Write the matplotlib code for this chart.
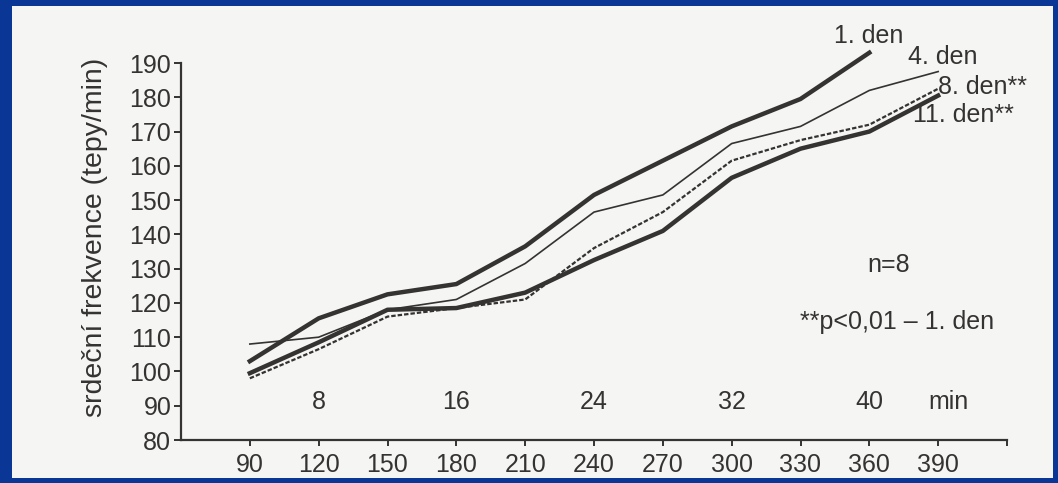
import matplotlib
matplotlib.use('Agg')
import matplotlib.pyplot as plt
import matplotlib.patches as patches

plt.rcParams['font.family'] = ['Liberation Sans', 'DejaVu Sans']

# Data
time_points = ['90', '120', '150', '180', '210', '240', '270', '300', '330', '360', '390']
den1 = [103, 115.5, 122.5, 125.5, 136.5, 151.5, 161.5, 171.5, 179.5, 193]
den4 = [108, 110, 118, 121, 131.5, 146.5, 151.5, 166.5, 171.5, 182, 187.5]
den8 = [98, 106.5, 116, 118.5, 121, 136, 146.5, 161.5, 167.5, 172, 182.5]
den11 = [99.5, 108.5, 118, 118.5, 123, 132.5, 141, 156.5, 165, 170, 180.5]
minute_labels = ['8', '16', '24', '32', '40']
minute_idx = [1, 3, 5, 7, 9]

ink = '#353232'
fs = 18
W, H = 1058, 483

fig = plt.figure(figsize=(W / 100, H / 100), dpi=100)
fig.patch.set_facecolor('#0a3796')
fig.patches.append(patches.Rectangle((12 / W, 5 / H), (1053 - 12) / W, (477 - 5) / H,
                                     transform=fig.transFigure, facecolor='#f5f5f3',
                                     edgecolor='none', zorder=-10))

ax = fig.add_axes([181 / W, (H - 440) / H, (1007 - 181) / W, (440 - 63) / H])
ax.set_facecolor('none')
ax.set_zorder(1)

x = list(range(len(time_points)))
ax.plot(x[:len(den1)], den1, color=ink, lw=3.2, clip_on=False, zorder=3)
ax.plot(x, den4, color=ink, lw=1.2, clip_on=False, zorder=3)
ax.plot(x, den8, color=ink, lw=1.6, linestyle=(0, (2, 0.9)), clip_on=False, zorder=3)
ax.plot(x, den11, color=ink, lw=3.2, clip_on=False, zorder=3)

ax.set_xlim(-1, 11)
ax.set_ylim(80, 190)
ax.set_yticks(range(80, 191, 10))
ax.set_xticks(x)
ax.set_xticklabels(time_points)
ax.set_xticks([11], minor=True)

for side in ['top', 'right']:
    ax.spines[side].set_visible(False)
for side in ['left', 'bottom']:
    ax.spines[side].set_color(ink)
    ax.spines[side].set_linewidth(1.6)

ax.tick_params(axis='y', direction='out', length=5, width=1.4, color=ink, labelcolor=ink,
               labelsize=fs, pad=2)
ax.tick_params(axis='x', which='both', direction='out', length=4, width=1.4, color=ink,
               labelcolor=ink, labelsize=fs, pad=5)

fig.text(95 / W, 1 - 237 / H, 'srdeční frekvence (tepy/min)', rotation=90,
         ha='center', va='center', fontsize=20.5, color=ink)

for lab, i in zip(minute_labels, minute_idx):
    ax.text(i, 91, lab, ha='center', va='center', fontsize=fs, color=ink)
ax.text(10.15, 91, 'min', ha='center', va='center', fontsize=fs, color=ink)

ax.text(8.48, 198, '1. den', ha='left', va='center', fontsize=fs, color=ink, clip_on=False)
ax.text(9.56, 191.7, '4. den', ha='left', va='center', fontsize=fs, color=ink, clip_on=False)
ax.text(10.0, 182.9, '8. den**', ha='left', va='center', fontsize=fs, color=ink, clip_on=False)
ax.text(9.64, 174.8, '11. den**', ha='left', va='center', fontsize=fs, color=ink, clip_on=False)

ax.text(9.28, 131, 'n=8', ha='center', va='center', fontsize=fs, color=ink)
ax.text(9.4, 114.4, '**p<0,01 – 1. den', ha='center', va='center', fontsize=fs, color=ink)

fig.savefig('out.png', dpi=100, facecolor=fig.get_facecolor())
